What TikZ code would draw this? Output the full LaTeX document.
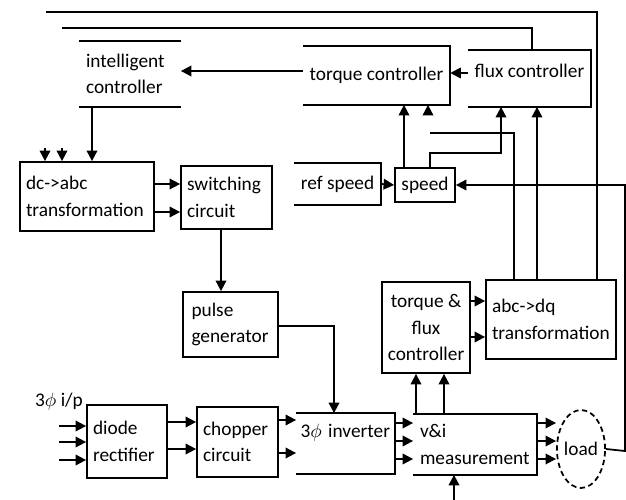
\documentclass[tikz,border=0pt]{standalone}
\usepackage{fontspec}
\setmainfont{Carlito}
\usetikzlibrary{positioning,arrows.meta,calc,shapes.geometric}

\begin{document}
\begin{tikzpicture}[x=0.02cm, y=-0.02cm,
    blk/.style={draw, line width=1pt, inner xsep=0.12cm, inner ysep=0pt, align=left, font=\fontsize{11}{15}\selectfont},
    opn/.style={blk, draw=none},
    wire/.style={line width=1pt},
    arr/.style={wire, -{Triangle[length=6pt,width=6pt]}}]
  \useasboundingbox (0,0) rectangle (626,500);

  % control part
  \node[opn, minimum width=2cm, minimum height=1.28cm, text width=1.76cm] (intel) at (130,74) {intelligent\\controller};
  \node[opn, align=center, minimum width=2.86cm, minimum height=1.14cm] (torque) at (376.5,75.5) {torque controller};
  \node[opn, align=center, minimum width=2.34cm, minimum height=1.10cm] (flux) at (529.5,78.5) {flux controller\\[-6pt]\mbox{}};
  \node[blk, minimum width=2.68cm, minimum height=1.38cm, text width=2.44cm] (dcabc) at (87,196.5) {dc->abc\\transformation};
  \node[blk, minimum width=1.82cm, minimum height=1.26cm, text width=1.58cm] (switch) at (226.5,197.5) {switching\\circuit};
  \node[opn, align=center, minimum width=1.62cm, minimum height=0.80cm] (refspd) at (337.5,184) {ref speed};
  \node[blk, align=center, minimum width=1.20cm, minimum height=0.68cm, inner xsep=0.05cm] (speed) at (425,185) {speed};
  \node[blk, minimum width=1.90cm, minimum height=1.30cm, text width=1.56cm, inner xsep=0.17cm] (pulse) at (230.5,324.5) {pulse\\generator};
  \node[blk, align=center, minimum width=1.76cm, minimum height=1.82cm] (tfctrl) at (426,327.5) {torque \&\\flux\\controller};
  \node[blk, minimum width=2.60cm, minimum height=1.58cm, text width=2.36cm] (abcdq) at (551,319.5) {abc->dq\\transformation};

  % power part
  \node[blk, minimum width=1.60cm, minimum height=1.46cm, text width=1.36cm] (diode) at (127,441.5) {diode\\rectifier};
  \node[blk, minimum width=1.62cm, minimum height=1.40cm, text width=1.38cm] (chopper) at (237.5,442) {chopper\\circuit};
  \node[opn, minimum width=1.94cm, minimum height=1.18cm, text width=1.80cm, inner xsep=0.07cm] (inverter) at (345.5,443.5) {\mbox{3$\phi$ inverter}\\\mbox{}};
  \node[opn, minimum width=2.44cm, minimum height=1.18cm, text width=2.20cm] (meas) at (475,444.5) {v\&i\\measurement};
  \node[ellipse, draw, line width=1pt, dash pattern=on 3pt off 2pt, minimum width=0.84cm, minimum height=1.56cm, inner sep=0pt, font=\fontsize{11}{15}\selectfont] (load) at (581,449) {load};
  \node[font=\fontsize{11}{15}\selectfont] (inp) at (59,402) {3$\phi$ i/p};

  % open boxes
  \draw[wire] (intel.north west) -- (intel.north east) (intel.south west) -- (intel.south east);
  \foreach \n in {torque,flux,refspd,inverter,meas}
    \draw[wire] (\n.north west) -- (\n.north east) -- (\n.south east) -- (\n.south west);

  \coordinate (topA) at (46,12);
  \coordinate (topB) at (62,28);
  \coordinate (midT) at (430,133);
  \coordinate (stubA) at (45,148);
  \coordinate (stubB) at (62,148);
  \coordinate (stubT) at (428,114);
  \coordinate (edge) at (625,451);
  \coordinate (below) at (454,500);

  % connectors
  \draw[arr] (torque.west |- 0,71) -- (intel.east |- 0,71);
  \draw[arr] (flux.west |- 0,73) -- (torque.east |- 0,73);
  \draw[arr] (intel.south -| 92,0) -- (dcabc.north -| 92,0);
  \draw[arr] (stubA) -- (dcabc.north -| stubA);
  \draw[arr] (stubB) -- (dcabc.north -| stubB);
  \foreach \y in {184,212}
    \draw[arr] (dcabc.east |- 0,\y) -- (switch.west |- 0,\y);
  \draw[arr] (switch.south -| 221,0) -- (pulse.north -| 221,0);
  \draw[arr] (pulse.east |- 0,326) -| (inverter.north -| 334,0);

  \foreach \y in {426,442,460}
    \draw[arr] ($(diode.west |- 0,\y)+(-27,0)$) -- (diode.west |- 0,\y);
  \foreach \y in {422,449}
    \draw[arr] (diode.east |- 0,\y) -- (chopper.west |- 0,\y);
  \foreach \y in {420,453}
    \draw[arr] (chopper.east |- 0,\y) -- (inverter.west |- 0,\y);
  \foreach \y in {423,441,459}
    \draw[arr] (inverter.east |- 0,\y) -- (meas.west |- 0,\y);
  \foreach \y in {423,441,459}
    \draw[arr] (meas.east |- 0,\y) -- (load.west |- 0,\y);
  \draw[arr] (below) -- (meas.south -| below);

  \foreach \x in {416,444}
    \draw[arr] (meas.north -| \x,0) -- (tfctrl.south -| \x,0);
  \foreach \y in {301,337}
    \draw[arr] (tfctrl.east |- 0,\y) -- (abcdq.west |- 0,\y);

  \draw[arr] (refspd.east) -- (speed.west);
  \draw[arr] (speed.north -| 404,0) -- (torque.south -| 404,0);
  \draw[arr] (speed.north -| 430,0) -- ++(0,-14) -| (flux.south -| 501,0);
  \draw[arr] (load.east) -- (edge) |- (speed.east);

  \draw[wire] (abcdq.north -| 514,0) |- (midT);
  \draw[arr] (stubT) -- (torque.south -| stubT);
  \draw[arr] (abcdq.north -| 537,0) -- (flux.south -| 537,0);
  \draw[wire] (abcdq.north -| 597,0) |- (topA);
  \draw[wire] (flux.north -| 532,0) |- (topB);
\end{tikzpicture}
\end{document}
